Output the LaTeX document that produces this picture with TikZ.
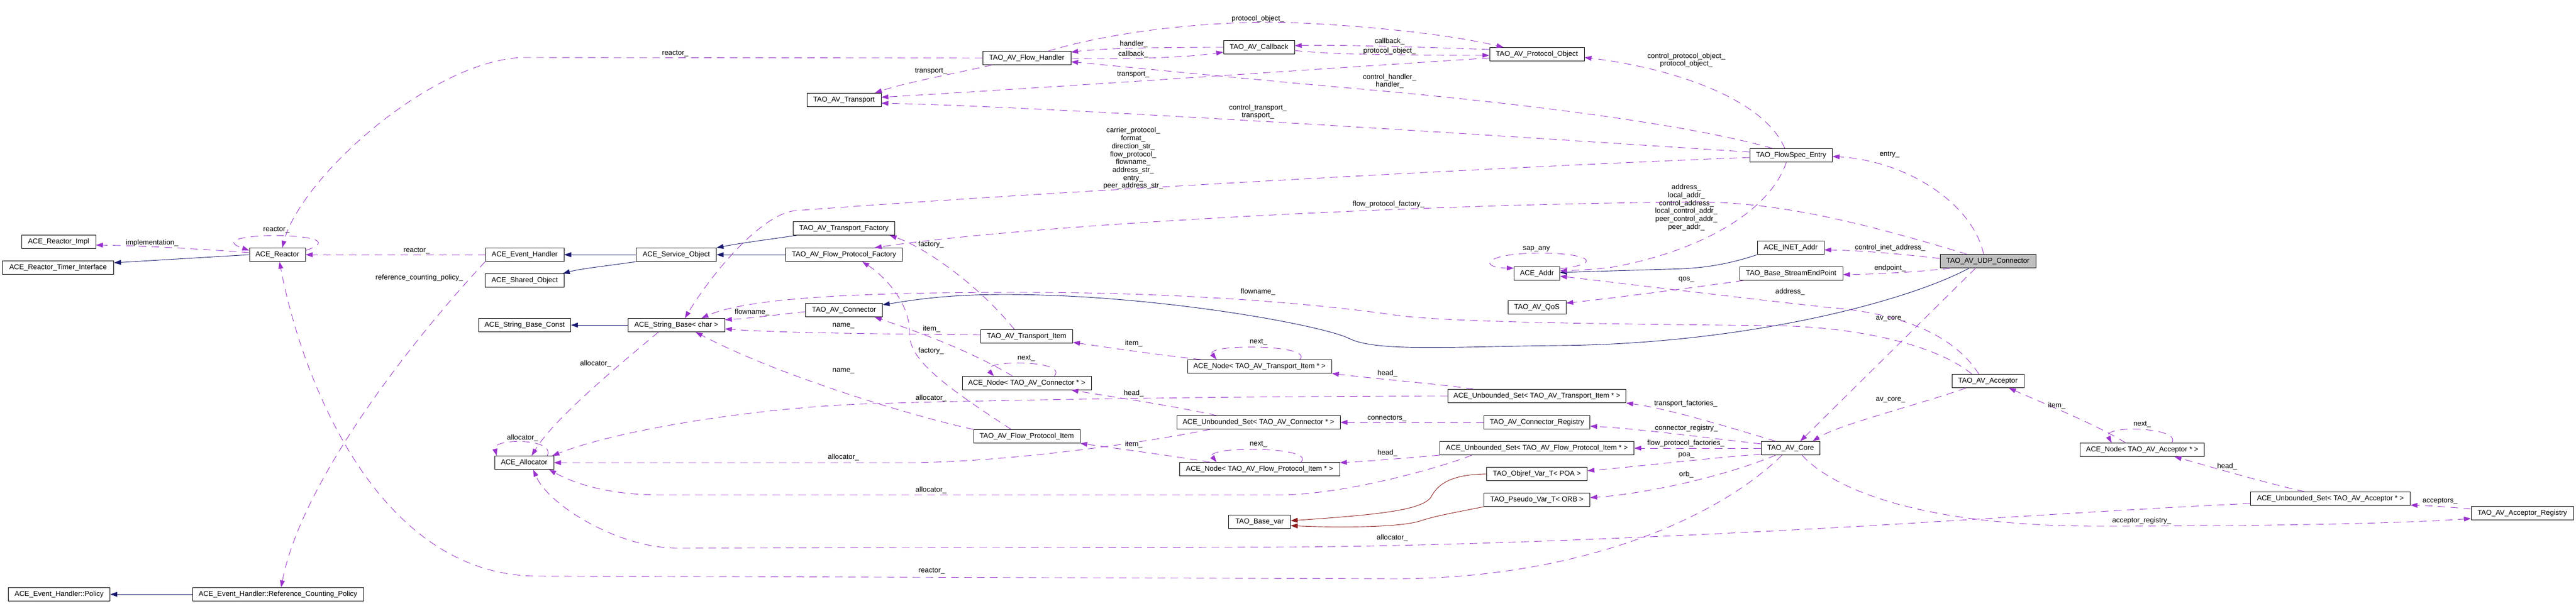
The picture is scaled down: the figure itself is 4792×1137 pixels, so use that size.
\documentclass[tikz,border=0pt]{standalone}
\usepackage{fontspec}
\usepackage{xcolor}
\usepackage{tikz}
\usetikzlibrary{arrows.meta}
\newfontfamily\dotfont{Liberation Sans}
\newcommand{\classfont}{\dotfont\fontsize{13.3}{14.7}\selectfont}
\definecolor{edgeblue}{HTML}{191970}
\definecolor{edgepurple}{HTML}{9A32CD}
\definecolor{edgered}{HTML}{8B1A1A}
\definecolor{focusgray}{HTML}{BFBFBF}

\begin{document}
\begin{tikzpicture}[x=1pt,y=-1pt,
  cls/.style={draw=black,line width=1pt,fill=white,minimum height=25pt,inner xsep=10pt,inner ysep=0pt,font=\classfont},
  member/.style={draw=edgepurple,line width=0.9pt,dash pattern=on 14pt off 10pt,-{Triangle[length=13pt,width=9pt]}},
  inherit/.style={draw=edgeblue,line width=0.9pt,-{Triangle[length=13pt,width=9pt]}},
  templ/.style={draw=edgered,line width=0.9pt,-{Triangle[length=13pt,width=9pt]}},
  lbl/.style={font=\classfont,inner sep=0pt,align=center}]
  \path[use as bounding box,fill=white] (0,0) rectangle (4792,1137);

  \node[cls,minimum width=138pt] (impl) at (109,450) {ACE\_Reactor\_Impl};
  \node[cls,minimum width=207pt] (timer) at (108,498) {ACE\_Reactor\_Timer\_Interface};
  \node[cls,minimum width=189pt] (policy) at (110,1106) {ACE\_Event\_Handler::Policy};
  \node[cls,minimum width=104pt] (reactor) at (516,474) {ACE\_Reactor};
  \node[cls,minimum width=318pt] (rcpolicy) at (517,1106) {ACE\_Event\_Handler::Reference\_Counting\_Policy};
  \node[cls,minimum width=146pt] (evhandler) at (976,474) {ACE\_Event\_Handler};
  \node[cls,minimum width=147pt] (sharedobj) at (976,522) {ACE\_Shared\_Object};
  \node[cls,minimum width=171pt] (strconst) at (976,605) {ACE\_String\_Base\_Const};
  \node[cls,minimum width=110pt] (allocator) at (975,861) {ACE\_Allocator};
  \node[cls,minimum width=149pt] (svcobj) at (1258,474) {ACE\_Service\_Object};
  \node[cls,minimum width=180pt] (strbase) at (1258,605) {ACE\_String\_Base< char >};
  \node[cls,minimum width=138pt] (transport) at (1570,186) {TAO\_AV\_Transport};
  \node[cls,minimum width=189pt] (trfactory) at (1570,425) {TAO\_AV\_Transport\_Factory};
  \node[cls,minimum width=217pt] (fpfactory) at (1570,474) {TAO\_AV\_Flow\_Protocol\_Factory};
  \node[cls,minimum width=143pt] (connector) at (1570,577) {TAO\_AV\_Connector};
  \node[cls,minimum width=164pt] (flowhandler) at (1910,108) {TAO\_AV\_Flow\_Handler};
  \node[cls,minimum width=171pt] (tritem) at (1910,626) {TAO\_AV\_Transport\_Item};
  \node[cls,minimum width=240pt] (nodeconn) at (1910,713) {ACE\_Node< TAO\_AV\_Connector * >};
  \node[cls,minimum width=198pt] (fpitem) at (1910,812) {TAO\_AV\_Flow\_Protocol\_Item};
  \node[cls,minimum width=132pt] (callback) at (2342,88) {TAO\_AV\_Callback};
  \node[cls,minimum width=268pt] (nodetr) at (2343,682) {ACE\_Node< TAO\_AV\_Transport\_Item * >};
  \node[cls,minimum width=304pt] (setconn) at (2341,786) {ACE\_Unbounded\_Set< TAO\_AV\_Connector * >};
  \node[cls,minimum width=298pt] (nodefp) at (2343,873) {ACE\_Node< TAO\_AV\_Flow\_Protocol\_Item * >};
  \node[cls,minimum width=115pt] (basevar) at (2343,971) {TAO\_Base\_var};
  \node[cls,minimum width=176pt] (protobj) at (2859,101) {TAO\_AV\_Protocol\_Object};
  \node[cls,minimum width=85pt] (addr) at (2859,509) {ACE\_Addr};
  \node[cls,minimum width=108pt] (qos) at (2859,572) {TAO\_AV\_QoS};
  \node[cls,minimum width=331pt] (settr) at (2859,737) {ACE\_Unbounded\_Set< TAO\_AV\_Transport\_Item * >};
  \node[cls,minimum width=197pt] (connreg) at (2859,786) {TAO\_AV\_Connector\_Registry};
  \node[cls,minimum width=361pt] (setfp) at (2859,834) {ACE\_Unbounded\_Set< TAO\_AV\_Flow\_Protocol\_Item * >};
  \node[cls,minimum width=187pt] (poa) at (2859,882) {TAO\_Objref\_Var\_T< POA >};
  \node[cls,minimum width=197pt] (orb) at (2859,930) {TAO\_Pseudo\_Var\_T< ORB >};
  \node[cls,minimum width=153pt] (flowspec) at (3332,289) {TAO\_FlowSpec\_Entry};
  \node[cls,minimum width=124pt] (inet) at (3331,461) {ACE\_INET\_Addr};
  \node[cls,minimum width=192pt] (sep) at (3332,509) {TAO\_Base\_StreamEndPoint};
  \node[cls,minimum width=109pt] (core) at (3331,834) {TAO\_AV\_Core};
  \node[cls,fill=focusgray,minimum width=178pt] (udp) at (3698,486) {TAO\_AV\_UDP\_Connector};
  \node[cls,minimum width=134pt] (acceptor) at (3698,709) {TAO\_AV\_Acceptor};
  \node[cls,minimum width=231pt] (nodeacc) at (3985,837) {ACE\_Node< TAO\_AV\_Acceptor * >};
  \node[cls,minimum width=297pt] (setacc) at (4335,928) {ACE\_Unbounded\_Set< TAO\_AV\_Acceptor * >};
  \node[cls,minimum width=190pt] (accreg) at (4692,955) {TAO\_AV\_Acceptor\_Registry};

  % inheritance and template instances
  \draw[inherit] (reactor.west) -- ([yshift=9pt]timer.east);
  \draw[inherit] (rcpolicy.west) -- (policy.east);
  \draw[inherit] (svcobj.west) -- (evhandler.east);
  \draw[inherit] (svcobj.south west) .. controls (1120,496) and (1080,500) .. ([xshift=-3pt]sharedobj.north east);
  \draw[inherit] ([xshift=7pt]trfactory.south west) .. controls (1420,447) and (1380,452) .. (svcobj.north east);
  \draw[inherit] (fpfactory.west) -- (svcobj.east);
  \draw[inherit] (strbase.west) -- (strconst.east);
  \draw[inherit] ([xshift=-35pt]udp.south) .. controls (3550,560) and (3250,640) .. (2900,643)
    .. controls (2700,645) and (2560,655) .. (2510,630)
    .. controls (2460,605) and (2150,548) .. (1870,548)
    .. controls (1750,548) and (1690,560) .. ([yshift=10pt]connector.east);
  \draw[inherit] (inet.south west) .. controls (3200,497) and (3150,500) .. (3100,501) -- ([yshift=2pt]addr.east);
  \draw[templ] (poa.west) .. controls (2700,883) and (2675,900) .. (2662,925)
    .. controls (2645,950) and (2560,958) .. ([yshift=2pt]basevar.east);
  \draw[templ] (orb.south west) .. controls (2700,955) and (2670,960) .. (2640,970)
    .. controls (2600,982) and (2480,982) .. ([yshift=-7pt]basevar.east);

  % members
  \draw[member] ([yshift=4pt]reactor.west) .. controls (420,467) and (300,458) .. ([yshift=-6pt]impl.east)
    node[lbl] at (283,452) {implementation\_};
  \draw[member] ([yshift=8pt]reactor.east) .. controls (680,430) and (360,430) .. ([yshift=8pt]reactor.west)
    node[lbl] at (514,428) {reactor\_};
  \draw[member] (flowhandler.west) -- (970,107) .. controls (800,115) and (560,330) .. ([xshift=9pt]reactor.north)
    node[lbl] at (1256,100) {reactor\_};
  \draw[member] (evhandler.west) -- (reactor.east)
    node[lbl] at (775,467) {reactor\_};
  \draw[member] (evhandler.south west) .. controls (760,640) and (560,900) .. ([xshift=6pt]rcpolicy.north)
    node[lbl] at (780,517) {reference\_counting\_policy\_};
  \draw[member] ([xshift=-16pt]core.south) .. controls (3200,960) and (2950,1075) .. (2600,1077) -- (1000,1072)
    .. controls (700,1072) and (560,700) .. ([xshift=4pt]reactor.south)
    node[lbl] at (1733,1063) {reactor\_};

  \draw[member] ([xshift=18pt]flowhandler.south west) .. controls (1760,140) and (1680,155) .. ([xshift=-12pt]transport.north east)
    node[lbl] at (1732,133) {transport\_};
  \draw[member] ([yshift=-1pt]flowhandler.east) .. controls (2100,110) and (2200,108) .. ([yshift=-9pt]callback.west)
    node[lbl] at (2108,101) {callback\_};
  \draw[member] (callback.west) .. controls (2150,88) and (2050,90) .. ([yshift=11pt]flowhandler.east)
    node[lbl] at (2109,82) {handler\_};
  \draw[member] ([xshift=40pt]flowhandler.north) .. controls (2100,50) and (2300,38) .. (2400,42)
    .. controls (2550,48) and (2700,65) .. ([xshift=-62pt]protobj.north)
    node[lbl] at (2340,35) {protocol\_object\_};
  \draw[member] ([yshift=9pt]protobj.west) .. controls (2650,88) and (2500,83) .. ([yshift=3pt]callback.east)
    node[lbl] at (2585,77) {callback\_};
  \draw[member] ([yshift=-6pt]callback.east) .. controls (2450,99) and (2550,103) .. ([yshift=-2pt]protobj.west)
    node[lbl] at (2585,95) {protocol\_object\_};
  \draw[member] ([yshift=-7pt]protobj.west) .. controls (2500,125) and (2000,160) .. ([yshift=5pt]transport.east)
    node[lbl] at (2108,139) {transport\_};

  \draw[member] ([xshift=-35pt]flowspec.north) .. controls (3100,220) and (2700,180) .. (2500,163)
    .. controls (2300,145) and (2100,125) .. ([yshift=-7pt]flowhandler.east)
    node[lbl] at (2585,151) {control\_handler\_\\handler\_};
  \draw[member] ([yshift=6pt]flowspec.west) .. controls (2900,260) and (2000,200) .. ([yshift=-6pt]transport.east)
    node[lbl] at (2340,208) {control\_transport\_\\transport\_};
  \draw[member] ([xshift=-12pt]flowspec.north) .. controls (3280,180) and (3100,125) .. ([yshift=-6pt]protobj.east)
    node[lbl] at (3137,112) {control\_protocol\_object\_\\protocol\_object\_};
  \draw[member] ([yshift=-4pt]flowspec.west) .. controls (2800,310) and (1900,360) .. (1480,392)
    .. controls (1420,397) and (1330,500) .. ([xshift=16pt]strbase.north)
    node[lbl] at (2108,295) {carrier\_protocol\_\\format\_\\direction\_str\_\\flow\_protocol\_\\flowname\_\\address\_str\_\\entry\_\\peer\_address\_str\_};
  \draw[member] ([xshift=-9pt]flowspec.south) .. controls (3290,400) and (3150,470) .. (3000,497)
    .. controls (2960,502) and (2930,503) .. ([yshift=5pt]addr.east)
    node[lbl] at (3137,386) {address\_\\local\_addr\_\\control\_address\_\\local\_control\_addr\_\\peer\_control\_addr\_\\peer\_addr\_};
  \draw[member] ([yshift=-4pt]addr.north east) .. controls (2990,490) and (2950,470) .. (2860,471)
    .. controls (2760,472) and (2750,498) .. ([yshift=-3pt]addr.north west)
    node[lbl] at (2858,463) {sap\_any};
  \draw[member] ([xshift=-89pt]sep.south) .. controls (3150,535) and (3000,555) .. ([yshift=8pt]qos.east)
    node[lbl] at (3137,520) {qos\_};

  \draw[member] ([xshift=-39pt]udp.north) .. controls (3450,410) and (3300,375) .. (3150,376)
    .. controls (2600,380) and (1900,420) .. ([xshift=57pt]fpfactory.north)
    node[lbl] at (2583,380) {flow\_protocol\_factory\_};
  \draw[member] ([xshift=-8pt]udp.north) .. controls (3670,380) and (3550,300) .. ([yshift=-2pt]flowspec.east)
    node[lbl] at (3515,288) {entry\_};
  \draw[member] ([yshift=5pt]udp.west) .. controls (3530,472) and (3460,466) .. ([yshift=-4pt]inet.east)
    node[lbl] at (3516,461) {control\_inet\_address\_};
  \draw[member] ([xshift=-70pt]udp.south) .. controls (3580,505) and (3500,510) .. ([yshift=-2pt]sep.east)
    node[lbl] at (3516,499) {endpoint\_};
  \draw[member] ([xshift=-23pt]udp.south) -- ([xshift=18pt]core.north)
    node[lbl] at (3517,593) {av\_core\_};

  \draw[member] ([xshift=-41pt]acceptor.south) .. controls (3580,750) and (3420,790) .. ([xshift=41pt]core.north)
    node[lbl] at (3517,744) {av\_core\_};
  \draw[member] ([xshift=-17pt]acceptor.north) .. controls (3620,600) and (3480,578) .. (3400,572)
    .. controls (3200,550) and (3000,525) .. ([yshift=-5pt]addr.east)
    node[lbl] at (3330,543) {address\_};
  \draw[member] ([xshift=-30pt]acceptor.north) .. controls (3600,640) and (3450,608) .. (3300,606)
    .. controls (3000,603) and (2700,600) .. (2600,587)
    .. controls (2450,565) and (2200,544) .. (1900,544)
    .. controls (1650,544) and (1400,550) .. ([xshift=47pt]strbase.north)
    node[lbl] at (2340,543) {flowname\_};
  \draw[member] ([xshift=-31pt]nodeacc.north) .. controls (3900,790) and (3800,750) .. ([xshift=39pt]acceptor.south)
    node[lbl] at (3826,755) {item\_};
  \draw[member] ([xshift=55pt]nodeacc.north) .. controls (4060,795) and (3910,790) .. ([xshift=-57pt]nodeacc.north)
    node[lbl] at (3985,790) {next\_};
  \draw[member] ([xshift=-48pt]setacc.north) .. controls (4200,895) and (4100,865) .. ([xshift=60pt]nodeacc.south)
    node[lbl] at (4143,868) {head\_};
  \draw[member] ([yshift=8pt]accreg.west) .. controls (4560,944) and (4520,941) .. ([yshift=1pt]setacc.south east)
    node[lbl] at (4539,933) {acceptors\_};
  \draw[member] ([xshift=21pt]core.south) .. controls (3420,920) and (3600,979) .. (3900,979)
    .. controls (4200,979) and (4450,975) .. ([yshift=-10pt]accreg.west)
    node[lbl] at (3984,969) {acceptor\_registry\_};
  \draw[member] ([yshift=-9pt]setacc.west) .. controls (4000,945) and (3700,965) .. (3500,977)
    .. controls (3100,1000) and (2700,1016) .. (2400,1018) -- (1260,1020)
    .. controls (1150,1020) and (1020,940) .. ([xshift=17pt]allocator.south)
    node[lbl] at (2590,1001) {allocator\_};

  \draw[member] ([xshift=-28pt]core.north) .. controls (3200,790) and (3100,760) .. (settr.south east)
    node[lbl] at (3136,751) {transport\_factories\_};
  \draw[member] ([yshift=8pt]core.west) .. controls (3150,812) and (3050,798) .. ([yshift=-7pt]connreg.east)
    node[lbl] at (3137,797) {connector\_registry\_};
  \draw[member] (core.west) -- (setfp.east)
    node[lbl] at (3136,825) {flow\_protocol\_factories\_};
  \draw[member] ([yshift=-11pt]core.west) .. controls (3150,855) and (3050,868) .. ([yshift=6pt]poa.east)
    node[lbl] at (3137,847) {poa\_};
  \draw[member] ([xshift=-28pt]core.south) .. controls (3200,890) and (3050,920) .. ([yshift=4pt]orb.east)
    node[lbl] at (3137,883) {orb\_};

  \draw[member] (settr.west) .. controls (2300,737) and (1800,745) .. (1600,752)
    .. controls (1400,760) and (1150,800) .. ([xshift=-3pt]allocator.north east)
    node[lbl] at (1732,741) {allocator\_};
  \draw[member] ([xshift=-118pt]settr.north) .. controls (2680,715) and (2560,705) .. (nodetr.south east)
    node[lbl] at (2581,695) {head\_};
  \draw[member] ([xshift=-121pt]setfp.south) .. controls (2680,870) and (2500,921) .. (2380,921) -- (1230,921)
    .. controls (1120,921) and (1060,895) .. ([xshift=-9pt]allocator.south east)
    node[lbl] at (1732,912) {allocator\_};
  \draw[member] (setfp.south west) .. controls (2620,852) and (2550,858) .. ([yshift=12pt]nodefp.east)
    node[lbl] at (2581,843) {head\_};
  \draw[member] ([xshift=-90pt]setconn.south) .. controls (2150,820) and (1900,858) .. (1700,861) -- (allocator.east)
    node[lbl] at (1569,851) {allocator\_};
  \draw[member] ([xshift=-78pt]setconn.north) .. controls (2180,755) and (2080,740) .. ([xshift=83pt]nodeconn.south)
    node[lbl] at (2109,732) {head\_};
  \draw[member] (connreg.west) -- (setconn.east)
    node[lbl] at (2580,779) {connectors\_};

  \draw[member] ([xshift=-109pt]nodetr.north) .. controls (2150,660) and (2050,645) .. ([yshift=-11pt]tritem.east)
    node[lbl] at (2109,639) {item\_};
  \draw[member] ([xshift=75pt]nodetr.north) .. controls (2445,640) and (2240,640) .. ([xshift=-80pt]nodetr.north)
    node[lbl] at (2341,637) {next\_};
  \draw[member] ([xshift=51pt]nodeconn.north) .. controls (1990,669) and (1820,669) .. ([xshift=-61pt]nodeconn.north)
    node[lbl] at (1909,667) {next\_};
  \draw[member] ([xshift=-26pt]nodeconn.north) .. controls (1800,650) and (1700,615) .. ([xshift=57pt]connector.south)
    node[lbl] at (1733,612) {item\_};
  \draw[member] ([xshift=-92pt]nodefp.north) .. controls (2180,848) and (2080,835) .. (fpitem.south east)
    node[lbl] at (2109,827) {item\_};
  \draw[member] ([xshift=77pt]nodefp.north) .. controls (2450,830) and (2240,830) .. ([xshift=-80pt]nodefp.north)
    node[lbl] at (2341,827) {next\_};

  \draw[member] ([xshift=-23pt]tritem.north) .. controls (1820,530) and (1720,460) .. ([xshift=-10pt]trfactory.south east)
    node[lbl] at (1732,455) {factory\_};
  \draw[member] ([yshift=3pt]tritem.west) .. controls (1700,622) and (1450,620) .. ([yshift=-7pt]strbase.east)
    node[lbl] at (1569,606) {name\_};
  \draw[member] ([yshift=-3pt]connector.west) .. controls (1450,585) and (1400,592) .. ([yshift=10pt]strbase.east)
    node[lbl] at (1399,581) {flowname\_};
  \draw[member] ([xshift=-29pt]fpitem.north) .. controls (1760,720) and (1690,670) .. (1692,620)
    .. controls (1693,560) and (1640,510) .. ([xshift=34pt]fpfactory.south)
    node[lbl] at (1732,653) {factory\_};
  \draw[member] (fpitem.north west) .. controls (1700,775) and (1450,700) .. ([xshift=36pt]strbase.south)
    node[lbl] at (1569,690) {name\_};

  \draw[member] ([xshift=43pt]allocator.north) .. controls (1035,815) and (915,815) .. ([xshift=-51pt]allocator.north)
    node[lbl] at (972,815) {allocator\_};
  \draw[member] ([xshift=-33pt]strbase.south) .. controls (1150,680) and (1030,780) .. ([xshift=14pt]allocator.north)
    node[lbl] at (1108,677) {allocator\_};
\end{tikzpicture}
\end{document}
